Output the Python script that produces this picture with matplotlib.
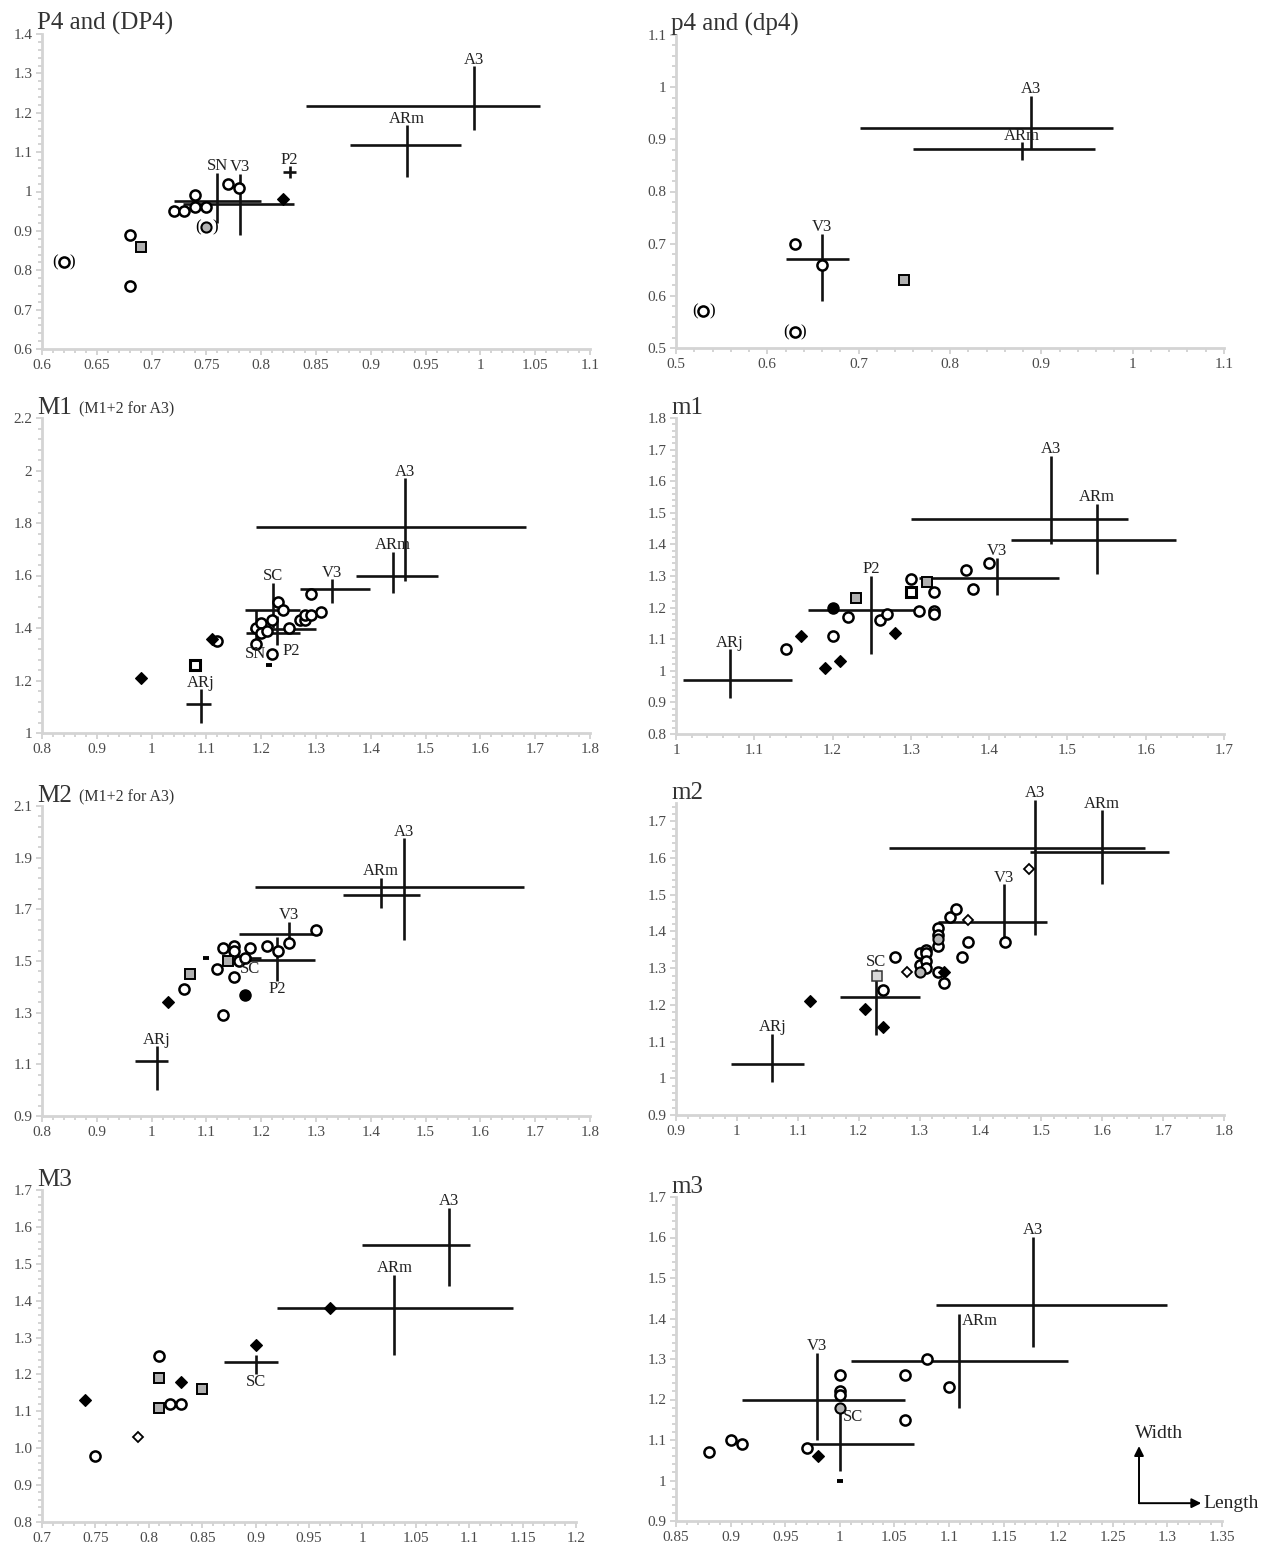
import matplotlib
matplotlib.use("Agg")
import numpy as np
import matplotlib.pyplot as plt
from matplotlib.ticker import MultipleLocator, AutoMinorLocator, FuncFormatter, FixedLocator

plt.rcParams['font.family'] = ['Liberation Serif', 'DejaVu Serif']

# ------------------------------------------------------------------ data
# Each cross: (label, x_mean, x_min, x_max, y_mean, y_min, y_max)

# P4 and (DP4)
P4_open = [(0.68, 0.89), (0.68, 0.76), (0.72, 0.95), (0.73, 0.95), (0.74, 0.96),
           (0.75, 0.96), (0.74, 0.99), (0.77, 1.02), (0.78, 1.01)]
P4_paren_open = [(0.62, 0.82)]
P4_paren_gray = [(0.75, 0.91)]
P4_gray_sq = [(0.69, 0.86)]
P4_black_dia = [(0.82, 0.98)]
P4_crosses = [("SN", 0.760, 0.720, 0.800, 0.976, 0.921, 1.047),
              ("V3", 0.781, 0.729, 0.830, 0.967, 0.890, 1.045),
              ("P2", 0.826, 0.820, 0.832, 1.049, 1.034, 1.064),
              ("ARm", 0.933, 0.881, 0.982, 1.119, 1.036, 1.168),
              ("A3", 0.994, 0.841, 1.054, 1.218, 1.157, 1.318)]

# p4 and (dp4)
p4_open = [(0.63, 0.70), (0.66, 0.66)]
p4_paren_open = [(0.53, 0.57), (0.63, 0.53)]
p4_gray_sq = [(0.75, 0.63)]
p4_crosses = [("V3", 0.660, 0.620, 0.689, 0.671, 0.591, 0.719),
              ("A3", 0.889, 0.701, 0.979, 0.921, 0.882, 0.984),
              ("ARm", 0.879, 0.760, 0.959, 0.881, 0.860, 0.894)]

# M1 (M1+2 for A3)
M1_open = [(1.12, 1.35), (1.19, 1.34), (1.19, 1.40), (1.20, 1.42), (1.20, 1.38),
           (1.21, 1.39), (1.22, 1.43), (1.23, 1.50), (1.24, 1.47), (1.25, 1.40),
           (1.22, 1.30), (1.27, 1.43), (1.28, 1.43), (1.28, 1.45), (1.29, 1.45),
           (1.29, 1.53), (1.31, 1.46)]
M1_black_dia = [(0.98, 1.21), (1.11, 1.36)]
M1_open_sq = [(1.08, 1.26)]
M1_dash = [(1.215, 1.26)]
M1_crosses = [("ARj", 1.090, 1.062, 1.109, 1.110, 1.040, 1.167),
              ("SN", 1.190, 1.172, 1.271, 1.380, 1.330, 1.469),
              ("SC", 1.221, 1.170, 1.271, 1.469, 1.400, 1.573),
              ("P2", 1.229, 1.180, 1.300, 1.398, 1.336, 1.444),
              ("V3", 1.329, 1.270, 1.399, 1.548, 1.494, 1.586),
              ("ARm", 1.441, 1.373, 1.522, 1.600, 1.535, 1.691),
              ("A3", 1.462, 1.191, 1.684, 1.786, 1.580, 1.970)]

# m1
m1_open = [(1.14, 1.07), (1.20, 1.11), (1.22, 1.17), (1.26, 1.16), (1.27, 1.18),
           (1.30, 1.29), (1.31, 1.19), (1.33, 1.25), (1.33, 1.19), (1.33, 1.18),
           (1.37, 1.32), (1.38, 1.26), (1.40, 1.34)]
m1_black_dia = [(1.16, 1.11), (1.19, 1.01), (1.21, 1.03), (1.28, 1.12)]
m1_black_circle = [(1.20, 1.20)]
m1_gray_sq = [(1.23, 1.23), (1.32, 1.28)]
m1_open_sq = [(1.30, 1.25)]
m1_crosses = [("ARj", 1.069, 1.009, 1.148, 0.971, 0.913, 1.068),
              ("P2", 1.249, 1.169, 1.307, 1.192, 1.053, 1.300),
              ("V3", 1.410, 1.310, 1.489, 1.294, 1.239, 1.357),
              ("A3", 1.479, 1.300, 1.578, 1.480, 1.400, 1.680),
              ("ARm", 1.538, 1.428, 1.639, 1.413, 1.306, 1.529)]

# M2 (M1+2 for A3)
M2_open = [(1.06, 1.39), (1.12, 1.47), (1.13, 1.55), (1.13, 1.29), (1.15, 1.56),
           (1.15, 1.54), (1.15, 1.44), (1.16, 1.50), (1.17, 1.51), (1.18, 1.55),
           (1.21, 1.56), (1.23, 1.54), (1.25, 1.57), (1.30, 1.62)]
M2_black_dia = [(1.03, 1.34)]
M2_gray_sq = [(1.07, 1.45), (1.14, 1.50)]
M2_black_circle = [(1.17, 1.37)]
M2_dash = [(1.10, 1.51)]
M2_crosses = [("ARj", 1.009, 0.969, 1.030, 1.114, 1.002, 1.170),
              ("SC", 1.180, 1.165, 1.200, 1.510, 1.500, 1.520),
              ("P2", 1.229, 1.168, 1.299, 1.504, 1.424, 1.592),
              ("V3", 1.250, 1.159, 1.308, 1.603, 1.553, 1.652),
              ("ARm", 1.419, 1.350, 1.489, 1.756, 1.704, 1.823),
              ("A3", 1.461, 1.189, 1.679, 1.787, 1.581, 1.975)]

# m2
m2_open = [(1.24, 1.24), (1.26, 1.33), (1.30, 1.34), (1.30, 1.31), (1.31, 1.35),
           (1.31, 1.34), (1.31, 1.32), (1.31, 1.30), (1.33, 1.41), (1.33, 1.39),
           (1.33, 1.36), (1.33, 1.29), (1.34, 1.26), (1.35, 1.44), (1.36, 1.46),
           (1.37, 1.33), (1.38, 1.37), (1.44, 1.37)]
m2_gray_circle = [(1.30, 1.29), (1.33, 1.38)]
m2_black_dia = [(1.12, 1.21), (1.21, 1.19), (1.24, 1.14), (1.34, 1.29)]
m2_open_dia = [(1.28, 1.29), (1.38, 1.43), (1.48, 1.57)]
m2_light_sq = [(1.23, 1.28)]
m2_crosses = [("ARj", 1.058, 0.990, 1.110, 1.038, 0.990, 1.122),
              ("SC", 1.229, 1.170, 1.300, 1.222, 1.118, 1.299),
              ("V3", 1.439, 1.330, 1.509, 1.426, 1.379, 1.528),
              ("A3", 1.490, 1.250, 1.671, 1.628, 1.390, 1.759),
              ("ARm", 1.600, 1.481, 1.710, 1.617, 1.530, 1.730)]

# M3
M3_open = [(0.75, 0.98), (0.81, 1.25), (0.82, 1.12), (0.83, 1.12)]
M3_black_dia = [(0.74, 1.13), (0.83, 1.18), (0.90, 1.28), (0.97, 1.38)]
M3_open_dia = [(0.79, 1.03)]
M3_gray_sq = [(0.81, 1.19), (0.81, 1.11), (0.85, 1.16)]
M3_crosses = [("SC", 0.900, 0.870, 0.921, 1.233, 1.201, 1.252),
              ("ARm", 1.030, 0.920, 1.141, 1.381, 1.252, 1.470),
              ("A3", 1.081, 1.000, 1.101, 1.550, 1.441, 1.652)]

# m3
m3_open = [(0.88, 1.07), (0.90, 1.10), (0.91, 1.09), (0.97, 1.08), (1.00, 1.26),
           (1.00, 1.22), (1.00, 1.21), (1.06, 1.26), (1.06, 1.15), (1.08, 1.30),
           (1.10, 1.23)]
m3_gray_circle = [(1.00, 1.18)]
m3_black_dia = [(0.98, 1.06)]
m3_dash = [(1.00, 1.00)]
m3_crosses = [("V3", 0.979, 0.910, 1.060, 1.200, 1.100, 1.316),
              ("SC", 1.000, 0.969, 1.068, 1.091, 1.023, 1.173),
              ("ARm", 1.109, 1.010, 1.209, 1.294, 1.179, 1.410),
              ("A3", 1.177, 1.088, 1.300, 1.433, 1.330, 1.601)]

# ------------------------------------------------------------------ layout / style
W, H = 1268, 1548
fig = plt.figure(figsize=(W / 100, H / 100), dpi=100)
fig.patch.set_facecolor("white")

SPINE = "#d4d4d4"
TICKTXT = "#4a4a4a"
LW_CROSS = 1.9

MARKERS = {
    "open": dict(marker="o", ms=7.3, mfc="white", mec="black", mew=1.8),
    "gray_circle": dict(marker="o", ms=7.3, mfc="#b4b4b4", mec="black", mew=1.5),
    "black_circle": dict(marker="o", ms=8.0, mfc="black", mec="black", mew=1.0),
    "gray_sq": dict(marker="s", ms=7.2, mfc="#b0b0b0", mec="black", mew=1.4),
    "light_sq": dict(marker="s", ms=6.8, mfc="#d8d8d8", mec="#333333", mew=1.1),
    "open_sq": dict(marker="s", ms=7.4, mfc="white", mec="black", mew=2.2),
    "black_dia": dict(marker="D", ms=5.8, mfc="black", mec="black", mew=0.8),
    "open_dia": dict(marker="D", ms=5.2, mfc="white", mec="black", mew=1.3),
    "dash": dict(marker="_", ms=5.0, mec="black", mew=2.8),
}

LABEL_PLACE = {("M1", "SN"): "below", ("M1", "P2"): "below_right",
               ("M2", "SC"): "below", ("M2", "P2"): "below",
               ("M3", "SC"): "below",
               ("m3", "SC"): "right", ("m3", "ARm"): "right"}


def make_axes(px):
    x0, x1, ytop, ybot = px
    return fig.add_axes([x0 / W, 1 - ybot / H, (x1 - x0) / W, (ybot - ytop) / H])


def gfmt(v, pos):
    return f"{round(v, 6):g}"


def style_axes(ax, xlim, ylim, xstep, yticks, yfmt=None):
    ax.set_xlim(*xlim)
    ax.set_ylim(*ylim)
    ax.xaxis.set_major_locator(MultipleLocator(xstep))
    ax.yaxis.set_major_locator(FixedLocator(yticks))
    ax.xaxis.set_minor_locator(AutoMinorLocator(5))
    ax.yaxis.set_minor_locator(AutoMinorLocator(5))
    ax.xaxis.set_major_formatter(FuncFormatter(gfmt))
    ax.yaxis.set_major_formatter(FuncFormatter(yfmt if yfmt else gfmt))
    for s in ("top", "right"):
        ax.spines[s].set_visible(False)
    for s in ("left", "bottom"):
        ax.spines[s].set_color(SPINE)
        ax.spines[s].set_linewidth(2.0)
    ax.tick_params(which="both", direction="out", color=SPINE, width=1.4,
                   labelcolor=TICKTXT, labelsize=11)
    ax.tick_params(which="major", length=4, pad=3)
    ax.tick_params(which="minor", length=3)
    ax.set_facecolor("none")


def draw_points(ax, pts, kind, paren=False):
    if not pts:
        return
    xs = [p[0] for p in pts]
    ys = [p[1] for p in pts]
    ax.plot(xs, ys, ls="none", zorder=5, clip_on=False, **MARKERS[kind])
    if paren:
        for x, y in pts:
            ax.annotate("(", (x, y), xytext=(-6.3, 0), textcoords="offset points",
                        ha="center", va="center", fontsize=12, zorder=6)
            ax.annotate(")", (x, y), xytext=(6.3, 0), textcoords="offset points",
                        ha="center", va="center", fontsize=12, zorder=6)


def draw_crosses(ax, crosses, panel):
    for name, xm, xlo, xhi, ym, ylo, yhi in crosses:
        ax.plot([xlo, xhi], [ym, ym], color="#111111", lw=LW_CROSS, zorder=3,
                solid_capstyle="butt", clip_on=False)
        ax.plot([xm, xm], [ylo, yhi], color="#111111", lw=LW_CROSS, zorder=3,
                solid_capstyle="butt", clip_on=False)
        place = LABEL_PLACE.get((panel, name), "above")
        kw = dict(fontsize=12, color="#222222", zorder=7, textcoords="offset points",
                  annotation_clip=False)
        if place == "above":
            ax.annotate(name, (xm, yhi), xytext=(0, -1), ha="center", va="bottom", **kw)
        elif place == "below":
            ax.annotate(name, (xm, ylo), xytext=(0, 0), ha="center", va="top", **kw)
        elif place == "below_right":
            ax.annotate(name, (xm, ylo), xytext=(4, 1), ha="left", va="top", **kw)
        elif place == "right":
            ax.annotate(name, (xm, yhi), xytext=(2, 1), ha="left", va="top", **kw)


def title(ax, main, sub=None):
    bb = ax.get_position()
    x = bb.x0 - 5 / W
    y = bb.y1 - 1 / H
    t = fig.text(x, y, main, fontsize=18, color="#333333", ha="left", va="bottom")
    if sub:
        fig.canvas.draw()
        ext = t.get_window_extent()
        fig.text(ext.x1 / W + 7 / W, y + 2 / H, sub, fontsize=11.5, color="#333333",
                 ha="left", va="bottom")


# ---------------- P4
ax = make_axes((42, 590, 34, 349))
style_axes(ax, (0.6, 1.1), (0.6, 1.4), 0.05, np.arange(0.6, 1.401, 0.1))
draw_crosses(ax, P4_crosses, "P4")
draw_points(ax, P4_open, "open")
draw_points(ax, P4_paren_open, "open", paren=True)
draw_points(ax, P4_paren_gray, "gray_circle", paren=True)
draw_points(ax, P4_gray_sq, "gray_sq")
draw_points(ax, P4_black_dia, "black_dia")
title(ax, "P4 and (DP4)")

# ---------------- p4
ax = make_axes((676, 1224, 35, 348))
style_axes(ax, (0.5, 1.1), (0.5, 1.1), 0.1, np.arange(0.5, 1.101, 0.1))
draw_crosses(ax, p4_crosses, "p4")
draw_points(ax, p4_open, "open")
draw_points(ax, p4_paren_open, "open", paren=True)
draw_points(ax, p4_gray_sq, "gray_sq")
title(ax, "p4 and (dp4)")

# ---------------- M1
ax = make_axes((42, 590, 418, 733))
style_axes(ax, (0.8, 1.8), (1.0, 2.2), 0.1, np.arange(1.0, 2.201, 0.2))
draw_crosses(ax, M1_crosses, "M1")
draw_points(ax, M1_open, "open")
draw_points(ax, M1_black_dia, "black_dia")
draw_points(ax, M1_open_sq, "open_sq")
draw_points(ax, M1_dash, "dash")
title(ax, "M1", "(M1+2 for A3)")

# ---------------- m1
ax = make_axes((676, 1224, 418, 734))
style_axes(ax, (1.0, 1.7), (0.8, 1.8), 0.1, np.arange(0.8, 1.801, 0.1))
draw_crosses(ax, m1_crosses, "m1")
draw_points(ax, m1_open, "open")
draw_points(ax, m1_black_dia, "black_dia")
draw_points(ax, m1_black_circle, "black_circle")
draw_points(ax, m1_gray_sq, "gray_sq")
draw_points(ax, m1_open_sq, "open_sq")
title(ax, "m1")

# ---------------- M2
ax = make_axes((42, 590, 806, 1116))
style_axes(ax, (0.8, 1.8), (0.9, 2.1), 0.1, np.arange(0.9, 2.101, 0.2))
draw_crosses(ax, M2_crosses, "M2")
draw_points(ax, M2_open, "open")
draw_points(ax, M2_black_dia, "black_dia")
draw_points(ax, M2_gray_sq, "gray_sq")
draw_points(ax, M2_black_circle, "black_circle")
draw_points(ax, M2_dash, "dash")
title(ax, "M2", "(M1+2 for A3)")

# ---------------- m2
ax = make_axes((676, 1224, 803, 1115))
style_axes(ax, (0.9, 1.8), (0.9, 1.75), 0.1, np.arange(0.9, 1.701, 0.1))
draw_crosses(ax, m2_crosses, "m2")
draw_points(ax, m2_open, "open")
draw_points(ax, m2_gray_circle, "gray_circle")
draw_points(ax, m2_black_dia, "black_dia")
draw_points(ax, m2_open_dia, "open_dia")
draw_points(ax, m2_light_sq, "light_sq")
title(ax, "m2")

# ---------------- M3
ax = make_axes((42, 576, 1190, 1522))
style_axes(ax, (0.7, 1.2), (0.8, 1.7), 0.05, np.arange(0.8, 1.701, 0.1),
           yfmt=lambda v, p: f"{v:.1f}")
draw_crosses(ax, M3_crosses, "M3")
draw_points(ax, M3_open, "open")
draw_points(ax, M3_black_dia, "black_dia")
draw_points(ax, M3_open_dia, "open_dia")
draw_points(ax, M3_gray_sq, "gray_sq")
title(ax, "M3")

# ---------------- m3
ax = make_axes((676, 1222, 1197, 1521))
style_axes(ax, (0.85, 1.35), (0.9, 1.7), 0.05, np.arange(0.9, 1.701, 0.1))
draw_crosses(ax, m3_crosses, "m3")
draw_points(ax, m3_open, "open")
draw_points(ax, m3_gray_circle, "gray_circle")
draw_points(ax, m3_black_dia, "black_dia")
draw_points(ax, m3_dash, "dash")
title(ax, "m3")
# Width / Length key
ox, oy = 1.274, 0.944
ax.annotate("", xy=(ox, 1.085), xytext=(ox, oy),
            arrowprops=dict(arrowstyle="-|>", color="black", lw=1.4, mutation_scale=14,
                            shrinkA=0, shrinkB=0))
ax.annotate("", xy=(1.331, oy), xytext=(ox, oy),
            arrowprops=dict(arrowstyle="-|>", color="black", lw=1.4, mutation_scale=14,
                            shrinkA=0, shrinkB=0), annotation_clip=False)
ax.text(1.270, 1.095, "Width", fontsize=14, color="#222222", ha="left", va="bottom")
ax.text(1.333, oy, "Length", fontsize=14, color="#222222", ha="left", va="center",
        clip_on=False)

fig.savefig("out.png", dpi=100, facecolor="white")
